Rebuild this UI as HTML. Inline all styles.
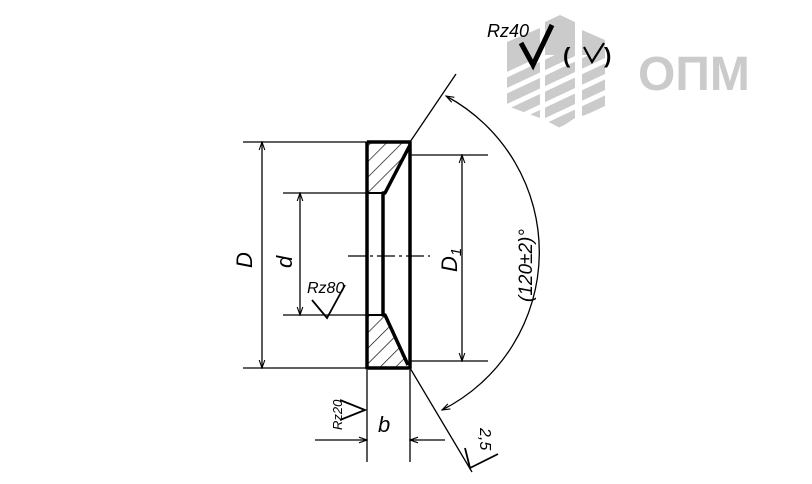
<!DOCTYPE html>
<html><head><meta charset="utf-8"><style>
html,body{margin:0;padding:0;background:#fff;}
svg{display:block;}
text{font-family:"Liberation Sans",sans-serif;font-style:italic;fill:#000;}
</style></head><body>
<svg width="812" height="484" viewBox="0 0 812 484" xmlns="http://www.w3.org/2000/svg">
<defs>
<pattern id="h" patternUnits="userSpaceOnUse" width="11" height="11" patternTransform="rotate(45)">
<line x1="0" y1="0" x2="0" y2="11" stroke="#000" stroke-width="1.3"/>
</pattern>
<marker id="a" viewBox="0 0 10 10" refX="10" refY="5" markerWidth="10" markerHeight="8" orient="auto-start-reverse" markerUnits="userSpaceOnUse"><path d="M0,1.5 L10,5 L0,8.5" fill="none" stroke="#000" stroke-width="1.4"/></marker>
<clipPath id="lc"><rect x="500" y="55" width="110" height="80"/></clipPath>
</defs>
<!-- logo -->
<g fill="#cbcbcb">
<polygon points="507,42 540,28 540,118 507,106"/>
<polygon points="545,22 560,15 575,22 575,118 560,128 545,120"/>
<polygon points="582,30 605,40 605,108 582,116"/>
<text x="638" y="90" font-size="48" font-weight="bold" style="font-style:normal;fill:#cbcbcb">ОПМ</text>
</g>
<g stroke="#fff" stroke-width="5" clip-path="url(#lc)">
<line x1="500" y1="78" x2="615" y2="24"/><line x1="500" y1="94" x2="615" y2="40"/><line x1="500" y1="110" x2="615" y2="56"/><line x1="500" y1="126" x2="615" y2="72"/><line x1="500" y1="142" x2="615" y2="88"/><line x1="500" y1="158" x2="615" y2="104"/>
</g>
<!-- part -->
<polygon points="367,142 410,142 383,193 367,193" fill="url(#h)"/>
<polygon points="367,315 383,315 408,368 367,368" fill="url(#h)"/>
<g stroke="#000" stroke-width="3.5" fill="none" stroke-linejoin="round">
<polyline points="367,142 410,142 410,368 367,368 367,142"/>
<polyline points="410,145 385,193 383,193 383,315 385,315 408,365"/>
<line x1="367" y1="193" x2="383" y2="193" stroke-width="2"/>
<line x1="367" y1="315" x2="383" y2="315" stroke-width="2"/>
</g>
<g stroke="#000" stroke-width="1.3" fill="none">
<line x1="243" y1="142" x2="367" y2="142"/><line x1="243" y1="368" x2="367" y2="368"/>
<line x1="262" y1="142" x2="262" y2="368" marker-start="url(#a)" marker-end="url(#a)"/>
<line x1="283" y1="193" x2="367" y2="193"/><line x1="283" y1="315" x2="367" y2="315"/>
<line x1="300" y1="193" x2="300" y2="315" marker-start="url(#a)" marker-end="url(#a)"/>
<line x1="410" y1="155" x2="488" y2="155"/><line x1="410" y1="361" x2="488" y2="361"/>
<line x1="462" y1="155" x2="462" y2="361" marker-start="url(#a)" marker-end="url(#a)"/>
<line x1="348" y1="256" x2="430" y2="256" stroke-dasharray="18,4,3,4"/>
<line x1="410" y1="142" x2="456" y2="74"/>
<line x1="410" y1="368" x2="472" y2="472"/>
<path d="M446,96 A177,177 0 0 1 442,410" marker-start="url(#a)" marker-end="url(#a)"/>
<line x1="367" y1="370" x2="367" y2="462"/><line x1="410" y1="370" x2="410" y2="462"/>
<line x1="315" y1="440" x2="367" y2="440" marker-end="url(#a)"/>
<line x1="445" y1="440" x2="410" y2="440" marker-end="url(#a)"/>
<polyline points="312,300 327,318 345,285" stroke-width="1.8"/>
<polyline points="340,400 365,410 340,420" stroke-width="1.8"/>
<polyline points="465,448 470,468 498,454" stroke-width="1.8"/>
<polyline points="584,47 592,62 604,43" stroke-width="2.2"/>
</g>
<polyline points="521,43 533,65 552,25" stroke="#000" stroke-width="5" fill="none"/>
<text x="487" y="37" font-size="18">Rz40</text>
<text x="563" y="63" font-size="22" font-weight="bold" style="font-style:normal">(</text>
<text x="604" y="63" font-size="22" font-weight="bold" style="font-style:normal">)</text>
<text x="307" y="293" font-size="16">Rz80</text>
<text x="378" y="432" font-size="22">b</text>
<text transform="translate(252,268) rotate(-90)" font-size="22">D</text>
<text transform="translate(292,268) rotate(-90)" font-size="22">d</text>
<text transform="translate(457,272) rotate(-90)" font-size="22">D<tspan font-size="15" dy="4">1</tspan></text>
<text transform="translate(532,302) rotate(-90)" font-size="19">(120±2)°</text>
<text transform="translate(342,430) rotate(-90)" font-size="13">Rz20</text>
<text transform="translate(480,428) rotate(90)" font-size="16">2,5</text>
</svg>
</body></html>
